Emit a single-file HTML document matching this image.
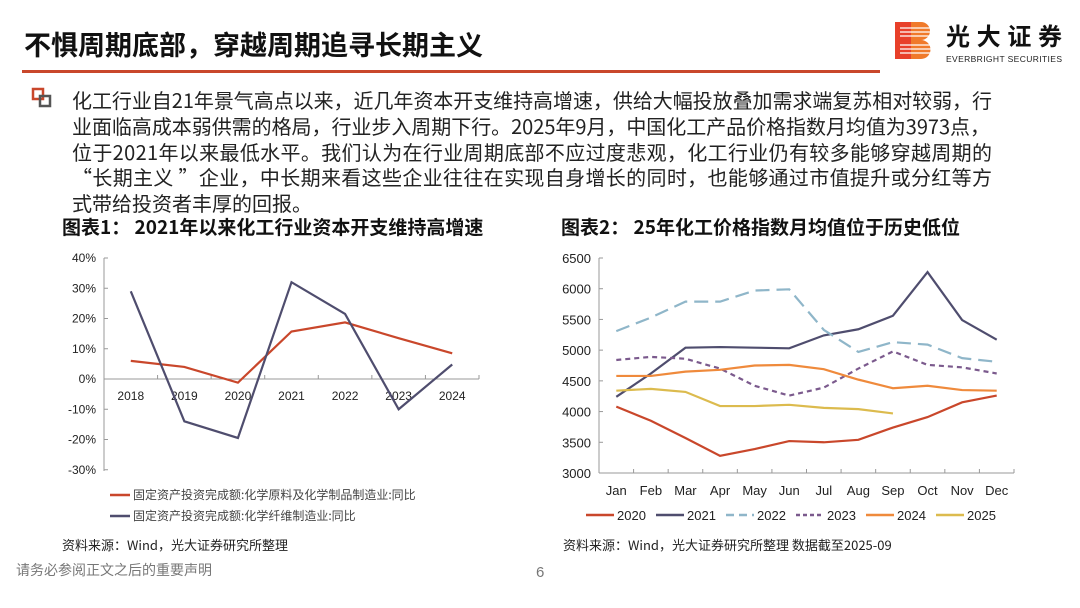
<!DOCTYPE html>
<html><head><meta charset="utf-8">
<style>
html,body{margin:0;padding:0;background:#fff;}
svg{display:block;font-family:"Liberation Sans","Noto Sans CJK SC",sans-serif;}
</style></head>
<body>
<svg id="s" width="1080" height="608" viewBox="0 0 1080 608" xmlns="http://www.w3.org/2000/svg">
  <text x="24" y="55" font-size="27" font-weight="bold" fill="#111" font-family="'Noto Sans CJK SC',sans-serif">不惧周期底部，穿越周期追寻长期主义</text>
  <rect x="22" y="70" width="858" height="3" fill="#c9472b"/>
  <g>
    <rect x="895" y="22" width="16" height="37" fill="#e8402a"/>
    <path d="M911 22 h10 a9 9 0 0 1 0 18 a9.5 9.5 0 0 1 0 19 h-10z" fill="#f07a2a"/>
    <g stroke="#fff" stroke-width="1.2"><line x1="900" y1="28" x2="930" y2="28"/><line x1="900" y1="32" x2="930" y2="32"/><line x1="900" y1="36" x2="930" y2="36"/><line x1="900" y1="45" x2="932" y2="45"/><line x1="900" y1="49" x2="932" y2="49"/><line x1="900" y1="53" x2="932" y2="53"/></g>
    <text x="946" y="45" font-size="24" font-weight="bold" fill="#111" font-family="'Noto Sans CJK SC',sans-serif" textLength="116">光大证券</text>
    <text x="946" y="62" font-size="8.5" fill="#222" textLength="116">EVERBRIGHT SECURITIES</text>
  </g>
  <g>
    <rect x="33" y="89" width="10" height="10" fill="none" stroke="#c9472b" stroke-width="2.5"/>
    <rect x="40" y="96" width="10" height="10" fill="none" stroke="#555" stroke-width="2.5"/>
  </g>
  <g font-size="20" fill="#222" font-family="'Noto Sans CJK SC',sans-serif">
    <text x="72" y="108" textLength="920">化工行业自21年景气高点以来，近几年资本开支维持高增速，供给大幅投放叠加需求端复苏相对较弱，行</text>
    <text x="72" y="134" textLength="918">业面临高成本弱供需的格局，行业步入周期下行。2025年9月，中国化工产品价格指数月均值为3973点，</text>
    <text x="72" y="160" textLength="920">位于2021年以来最低水平。我们认为在行业周期底部不应过度悲观，化工行业仍有较多能够穿越周期的</text>
    <text x="72" y="185" textLength="920">“长期主义 ”企业，中长期来看这些企业往往在实现自身增长的同时，也能够通过市值提升或分红等方</text>
    <text x="72" y="211">式带给投资者丰厚的回报。</text>
  </g>
  <text x="62" y="234" font-size="19" font-weight="bold" fill="#111" font-family="'Noto Sans CJK SC',sans-serif">图表1： 2021年以来化工行业资本开支维持高增速</text>
  <text x="561" y="234" font-size="19" font-weight="bold" fill="#111" font-family="'Noto Sans CJK SC',sans-serif">图表2： 25年化工价格指数月均值位于历史低位</text>
  <g id="c1"></g>
  <g id="c2"></g>
  <text x="62" y="550" font-size="13" fill="#222" font-family="'Noto Sans CJK SC',sans-serif">资料来源：Wind，光大证券研究所整理</text>
  <text x="563" y="550" font-size="13" fill="#222" font-family="'Noto Sans CJK SC',sans-serif">资料来源：Wind，光大证券研究所整理 数据截至2025-09</text>
  <text x="16" y="575" font-size="14" fill="#777" font-family="'Noto Sans CJK SC',sans-serif">请务必参阅正文之后的重要声明</text>
  <text x="536" y="577" font-size="15" fill="#777">6</text>
</svg>
<script>
const NS="http://www.w3.org/2000/svg";
// chart 1 data
const years=["2018","2019","2020","2021","2022","2023","2024"];
const capexChem=[6,4,-1.2,15.7,18.7,13.5,8.5];
const capexFiber=[29,-14,-19.5,32,21.5,-10,4.8];
const pctTicks=[40,30,20,10,0,-10,-20,-30];
const legend1=["固定资产投资完成额:化学原料及化学制品制造业:同比","固定资产投资完成额:化学纤维制造业:同比"];
// chart 2 data
const months=["Jan","Feb","Mar","Apr","May","Jun","Jul","Aug","Sep","Oct","Nov","Dec"];
const seriesNames=["2020","2021","2022","2023","2024","2025"];
const y2020=[4080,3850,3570,3280,3390,3520,3500,3540,3740,3910,4150,4260];
const y2021=[4240,4620,5040,5050,5040,5030,5240,5340,5560,6270,5490,5170];
const y2022=[5310,5530,5790,5790,5970,5990,5330,4970,5130,5090,4870,4810];
const y2023=[4840,4890,4860,4700,4420,4260,4390,4700,4980,4760,4720,4620];
const y2024=[4580,4580,4650,4680,4750,4760,4690,4520,4380,4420,4350,4340];
const y2025=[4340,4370,4320,4090,4090,4110,4060,4040,3970];
const idxTicks=[6500,6000,5500,5000,4500,4000,3500,3000];

function mk(p,tag,attrs){const e=document.createElementNS(NS,tag);for(const k in attrs)e.setAttribute(k,attrs[k]);p.appendChild(e);return e;}

// chart 1
(function(){
  const g=document.getElementById('c1');
  const x0=104,x1=479,yTop=258,yBot=471;
  const y=v=>379-(v)*(379-258)/40;
  const step=(x1-x0)/7;
  const x=i=>x0+step*(i+0.5);
  let ax=mk(g,'line',{x1:x0,y1:yTop,x2:x0,y2:yBot,stroke:'#999'});
  
  pctTicks.forEach(t=>{
    mk(g,'line',{x1:x0,y1:y(t),x2:x0+4,y2:y(t),stroke:'#999'});
    const tx=mk(g,'text',{x:x0-8,y:y(t)+4,'font-size':12,'text-anchor':'end',fill:'#222'});tx.textContent=t+'%';
    
  });
  let xa=mk(g,'line',{x1:x0,y1:y(0),x2:x1,y2:y(0),stroke:'#999'});
  
  for(let i=1;i<=7;i++)mk(g,'line',{x1:x0+step*i,y1:y(0),x2:x0+step*i,y2:y(0)-4,stroke:'#999'});
  years.forEach((c,i)=>{const t=mk(g,'text',{x:x(i),y:y(0)+21,'font-size':12,'text-anchor':'middle',fill:'#222'});t.textContent=c;
    });
  const cols=['#c9472b','#4f4d6e'];
  [capexChem,capexFiber].forEach((d,k)=>{
    const p=mk(g,'polyline',{points:d.map((v,i)=>x(i)+','+y(v)).join(' '),fill:'none',stroke:cols[k],'stroke-width':2.2});
    
    const ly=495+k*21;
    const lg=mk(g,'g',{});
    
    mk(lg,'line',{x1:110,y1:ly,x2:130,y2:ly,stroke:cols[k],'stroke-width':2.5});
    const t=mk(lg,'text',{x:133,y:ly+4,'font-size':12,fill:'#444','font-family':"'Noto Sans CJK SC',sans-serif"});t.textContent=legend1[k];
  });
})();

// chart 2
(function(){
  const g=document.getElementById('c2');
  const x0=599,x1=1014,yTop=258,yBot=473;
  const y=v=>yBot-(v-3000)*(yBot-yTop)/3500;
  const step=(x1-x0)/12;
  const x=i=>x0+step*(i+0.5);
  let ax=mk(g,'line',{x1:x0,y1:yTop,x2:x0,y2:yBot,stroke:'#999'});
  
  idxTicks.forEach(t=>{
    mk(g,'line',{x1:x0,y1:y(t),x2:x0+4,y2:y(t),stroke:'#999'});
    const tx=mk(g,'text',{x:x0-8,y:y(t)+5,'font-size':13,'text-anchor':'end',fill:'#222'});tx.textContent=t;
    
  });
  let xa=mk(g,'line',{x1:x0,y1:yBot,x2:x1,y2:yBot,stroke:'#999'});
  
  for(let i=1;i<=12;i++)mk(g,'line',{x1:x0+step*i,y1:yBot,x2:x0+step*i,y2:yBot-4,stroke:'#999'});
  months.forEach((c,i)=>{const t=mk(g,'text',{x:x(i),y:yBot+22,'font-size':13,'text-anchor':'middle',fill:'#222'});t.textContent=c;
    });
  const data=[y2020,y2021,y2022,y2023,y2024,y2025];
  const cols=['#c9472b','#4f4d6e','#8fb6c9','#7b5a8d','#ef8a3c','#dcbb4e'];
  const dash=['','','14 7','5 4','',''];
  const lx=[586,656,726,796,866,936];
  data.forEach((d,k)=>{
    const a={points:d.map((v,i)=>x(i)+','+y(v)).join(' '),fill:'none',stroke:cols[k],'stroke-width':2.2};
    if(dash[k])a['stroke-dasharray']=dash[k];
    const p=mk(g,'polyline',a);
    
    const lg=mk(g,'g',{});
    
    const la={x1:lx[k],y1:515,x2:lx[k]+28,y2:515,stroke:cols[k],'stroke-width':2.5};
    if(dash[k])la['stroke-dasharray']=k==2?'8 5':'4 3';
    mk(lg,'line',la);
    const t=mk(lg,'text',{x:lx[k]+31,y:520,'font-size':13,fill:'#222'});t.textContent=seriesNames[k];
  });
})();
</script>
</body></html>
